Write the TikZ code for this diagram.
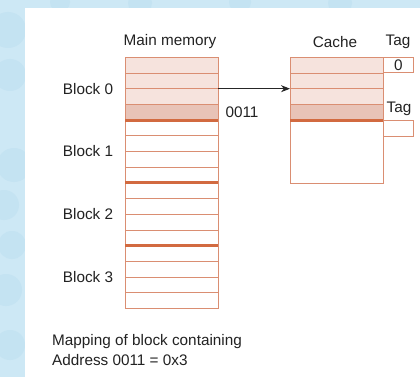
\documentclass[tikz,border=0pt]{standalone}
\usepackage{fontspec}
\setmainfont{Liberation Sans}
\usetikzlibrary{arrows.meta}
\definecolor{bgblue}{HTML}{CDE8F5}
\definecolor{bgdot}{HTML}{C4E3F2}
\definecolor{rowline}{HTML}{DA8E72}
\definecolor{rowfill}{HTML}{F6E3DD}
\definecolor{rowdark}{HTML}{E8C3B7}
\definecolor{blockline}{HTML}{D26A40}
\definecolor{txt}{HTML}{222222}
\begin{document}
\begin{tikzpicture}[x=1pt,y=-1pt,
  font=\fontsize{15.3}{18}\selectfont,
  every node/.style={text=txt},
  memrow/.style={draw=rowline, line width=0.8pt, minimum width=92.7pt,
    minimum height=15.7pt, inner sep=0pt, outer sep=0pt, anchor=north west},
  cacherow/.style={memrow, minimum width=93pt},
  tagbox/.style={draw=rowline, line width=0.8pt, minimum width=30.5pt,
    minimum height=15.5pt, inner sep=0pt, outer sep=0pt, anchor=north west},
  blocksep/.style={draw=blockline, line width=3pt},
  lbl/.style={inner sep=0pt},
  link/.style={draw=black!85, line width=0.9pt, -{Stealth[length=9pt,width=7pt]}}]

\useasboundingbox (0,0) rectangle (420,377);

% page background with soft dots, and the white sheet
\fill[bgblue] (0,0) rectangle (420,377);
\begin{scope}
  \clip (0,0) rectangle (420,377);
  \foreach \cx/\cy/\r in {8/30/18, 10/75/16, 14/165/17, 4/205/15, 12/245/14,
                          6/290/16, 10/345/15, 60/2/10, 140/3/12, 240/2/11, 340/3/12}
    \fill[bgdot] (\cx,\cy) circle (\r);
\end{scope}
\fill[white] (25,8) rectangle (420,377);

% main memory: 16 rows, four blocks of four
\foreach \i in {1,...,16} {
  \pgfmathsetmacro{\yy}{57.3+15.7*(\i-1)}
  \ifnum\i<4
    \node[memrow, fill=rowfill] (m\i) at (125.3,\yy) {};
  \else\ifnum\i=4
    \node[memrow, fill=rowdark] (m\i) at (125.3,\yy) {};
  \else
    \node[memrow] (m\i) at (125.3,\yy) {};
  \fi\fi
}
\foreach \i in {4,8,12}
  \draw[blocksep] (m\i.south west) -- (m\i.south east);

% cache: four rows holding block 0, then empty space
\foreach \i in {1,...,4} {
  \pgfmathsetmacro{\yy}{57.3+15.7*(\i-1)}
  \ifnum\i<4
    \node[cacherow, fill=rowfill] (c\i) at (290,\yy) {};
  \else
    \node[cacherow, fill=rowdark] (c\i) at (290,\yy) {};
  \fi
}
\node[cacherow, minimum height=63.4pt] (c5) at (290,120.1) {};
\draw[blocksep] (c4.south west) -- (c4.south east);

% tag fields
\node[tagbox] (t1) at (c1.north east) {0};
\node[tagbox, minimum height=16pt] (t2) at (c5.north east) {};

% headings and labels
\node[lbl] (hmm) at (170,42) {Main memory};
\node[lbl] (hc) at (335,42) {Cache};
\node[lbl] (htag) at (398,42) {Tag};
\node[lbl] (htag2) at (399,109) {Tag};
\node[lbl] (addr) at (242,112) {0011};
\foreach \b/\r in {0/2,1/6,2/10,3/14}
  \node[lbl, anchor=east] (blk\b) at ([xshift=-12pt]m\r.south west) {Block \b};

% block 0 is copied into the cache
\draw[link] (m2.south east) -- (c2.south west);

% caption
\node[lbl, anchor=west] (cap1) at (52,342) {Mapping of block containing};
\node[lbl, anchor=west] (cap2) at (52,360) {Address 0011 = 0x3};
\end{tikzpicture}
\end{document}
